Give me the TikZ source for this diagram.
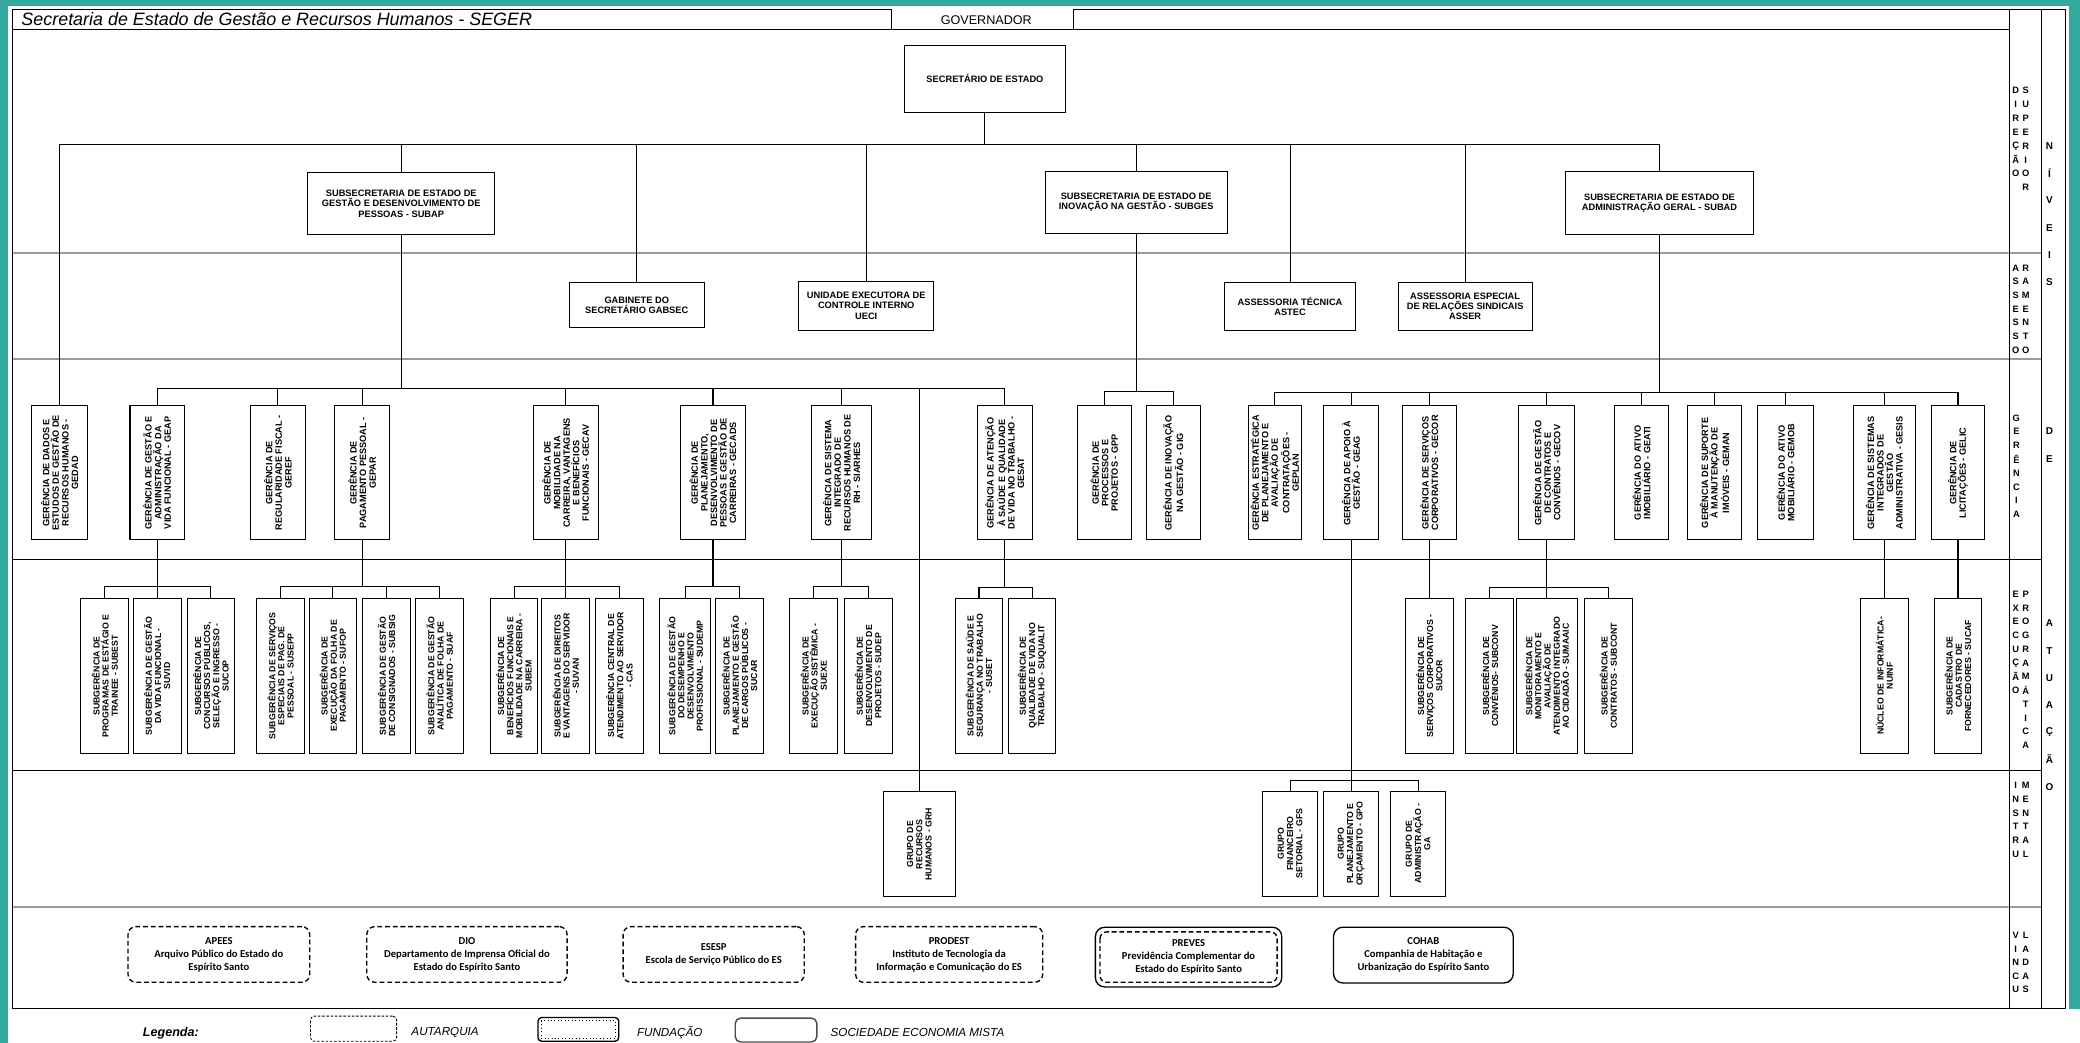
\documentclass[tikz,border=0pt]{standalone}
\usepackage{fontspec}
\setmainfont{Liberation Sans}
\newfontfamily\calib{Carlito}
\definecolor{frameteal}{RGB}{51,168,158}
\begin{document}
\begin{tikzpicture}[x=1pt,y=-1pt,
 box/.style={draw, line width=0.8pt, fill=white, inner sep=1pt},
 hbox/.style={box, align=center, font=\bfseries\fontsize{7}{7.8}\selectfont},
 gbox/.style={box, rotate=90, align=center, font=\bfseries\fontsize{6.9}{7.2}\selectfont, minimum width=101pt, minimum height=41pt},
 ebox/.style={box, rotate=90, align=center, font=\bfseries\fontsize{6.6}{6.9}\selectfont, minimum width=117pt, minimum height=36pt},
 ibox/.style={box, rotate=90, align=center, font=\bfseries\fontsize{6.6}{7}\selectfont, minimum width=79pt, minimum height=41pt},
 conn/.style={line width=0.8pt},
 frame/.style={line width=0.8pt},
 sep/.style={line width=1.5pt, draw=black!40},
 blet/.style={inner sep=0pt, font=\bfseries\fontsize{7}{7}\selectfont},
 nlet/.style={inner sep=0pt, font=\bfseries\fontsize{7.5}{7.5}\selectfont},
 vin/.style={draw, rounded corners=6pt, line width=1pt, dash pattern=on 3.6pt off 2.2pt, align=center, inner sep=0pt, font=\calib\bfseries\fontsize{8}{9.8}\selectfont},
 legtext/.style={anchor=west, inner sep=0pt, font=\itshape\fontsize{8.8}{8.8}\selectfont}
]
\useasboundingbox (0,0) rectangle (1568,786);
\fill[white] (0,0) rectangle (1568,786);
\fill[frameteal] (0,0) rectangle (6,786);
\fill[frameteal] (0,0) rectangle (1568,4.5);
\fill[frameteal] (1560,0) rectangle (1568,761);

% band separators
\foreach \y in {191,271,684} \draw[sep] (9.5,\y) -- (1539,\y);
\foreach \y in {422,581} \draw[frame] (9.5,\y) -- (1539,\y);

% frame and header
\draw[frame] (9.5,7) rectangle (672,22);
\draw[frame] (809.5,22) -- (809.5,7) -- (1557,7);
\draw[frame] (9.5,22) -- (1515,22);
\draw[frame] (9.5,22) -- (9.5,760) -- (1557,760) -- (1557,7);
\draw[frame] (1515,7) -- (1515,760);
\draw[frame] (1539,7) -- (1539,760);
\node[anchor=west, inner sep=0pt, font=\itshape\fontsize{13.5}{13.5}\selectfont] (title) at (16,14.5) {Secretaria de Estado de Gestão e Recursos Humanos - SEGER};
\node[inner sep=0pt, font=\fontsize{9.5}{9.5}\selectfont] (gov) at (743.5,15) {GOVERNADOR};

% band labels
\foreach \l [count=\i from 0] in {D,I,R,E,Ç,Ã,O} \node[blet] (dsa\i) at (1519.5,{68+10.5*\i}) {\l};
\foreach \l [count=\i from 0] in {S,U,P,E,R,I,O,R} \node[blet] (dsb\i) at (1527,{68+10.5*\i}) {\l};
\foreach \l [count=\i from 0] in {A,S,S,E,S,S,O} \node[blet] (asa\i) at (1519.5,{202+10.33*\i}) {\l};
\foreach \l [count=\i from 0] in {R,A,M,E,N,T,O} \node[blet] (asb\i) at (1527,{202+10.33*\i}) {\l};
\foreach \l [count=\i from 0] in {G,E,R,Ê,N,C,I,A} \node[blet] (gea\i) at (1520,{315+10.4*\i}) {\l};
\foreach \l [count=\i from 0] in {E,X,E,C,U,Ç,Ã,O} \node[blet] (epa\i) at (1519.5,{448+10.36*\i}) {\l};
\foreach \l [count=\i from 0] in {P,R,O,G,R,A,M,Á,T,I,C,A} \node[blet] (epb\i) at (1527,{448+10.36*\i}) {\l};
\foreach \l [count=\i from 0] in {I,N,S,T,R,U} \node[blet] (ina\i) at (1519.5,{592+10.4*\i}) {\l};
\foreach \l [count=\i from 0] in {M,E,N,T,A,L} \node[blet] (inb\i) at (1527,{592+10.4*\i}) {\l};
\foreach \l [count=\i from 0] in {V,I,N,C,U} \node[blet] (via\i) at (1519.5,{705+10.25*\i}) {\l};
\foreach \l [count=\i from 0] in {L,A,D,A,S} \node[blet] (vib\i) at (1527,{705+10.25*\i}) {\l};
% niveis de atuacao
\foreach \l [count=\i from 0] in {N,Í,V,E,I,S} \node[nlet] (nv\i) at (1545,{110+20.6*\i}) {\l};
\foreach \l [count=\i from 0] in {D,E} \node[nlet] (de\i) at (1545,{325+21*\i}) {\l};
\foreach \l [count=\i from 0] in {A,T,U,A,Ç,Ã,O} \node[nlet] (at\i) at (1545,{470+20.5*\i}) {\l};

% level 1
\node[hbox, minimum width=121pt, minimum height=51pt] (SEC) at (742.5,59.5) {SECRETÁRIO DE ESTADO};
\node[hbox, minimum width=141pt, minimum height=47pt] (SUBAP) at (302.5,153.5) {SUBSECRETARIA DE ESTADO DE\\GESTÃO E DESENVOLVIMENTO DE\\PESSOAS - SUBAP};
\node[hbox, minimum width=137pt, minimum height=47pt] (SUBGES) at (856.5,152.5) {SUBSECRETARIA DE ESTADO DE\\INOVAÇÃO NA GESTÃO - SUBGES};
\node[hbox, minimum width=142pt, minimum height=48pt] (SUBAD) at (1251,153) {SUBSECRETARIA DE ESTADO DE\\ADMINISTRAÇÃO GERAL - SUBAD};
% assessoramento
\node[hbox, minimum width=102pt, minimum height=34pt] (GABSEC) at (480,230) {GABINETE DO\\SECRETÁRIO GABSEC};
\node[hbox, minimum width=102pt, minimum height=37pt] (UECI) at (653,230.5) {UNIDADE EXECUTORA DE\\CONTROLE INTERNO\\UECI};
\node[hbox, minimum width=99pt, minimum height=36pt] (ASTEC) at (972.5,231) {ASSESSORIA TÉCNICA\\ASTEC};
\node[hbox, minimum width=101pt, minimum height=36pt] (ASSER) at (1104.5,231) {ASSESSORIA ESPECIAL\\DE RELAÇÕES SINDICAIS\\ASSER};

% gerencias
\node[gbox, minimum height=42pt] (GEDAD) at (45,356.5) {GERÊNCIA DE DADOS E\\ESTUDOS DE GESTÃO DE\\RECURSOS HUMANOS -\\GEDAD};
\node[gbox] (GEAP) at (118.5,356.5) {GERÊNCIA DE GESTÃO E\\ADMINISTRAÇÃO DA\\VIDA FUNCIONAL - GEAP};
\node[gbox] (GEREF) at (209.5,356.5) {GERÊNCIA DE\\REGULARIDADE FISCAL -\\GEREF};
\node[gbox] (GEPAR) at (273,356.5) {GERÊNCIA DE\\PAGAMENTO PESSOAL -\\GEPAR};
\node[gbox, minimum height=49pt] (GECAV) at (426.5,356.5) {GERÊNCIA DE\\MOBILIDADE NA\\CARREIRA, VANTAGENS\\E BENEFÍCIOS\\FUNCIONAIS - GECAV};
\node[gbox, minimum height=49pt] (GECADS) at (537.5,356.5) {GERÊNCIA DE\\PLANEJAMENTO,\\DESENVOLVIMENTO DE\\PESSOAS E GESTÃO DE\\CARREIRAS - GECADS};
\node[gbox, minimum height=45pt] (SIARHES) at (634.5,356.5) {GERÊNCIA DE SISTEMA\\INTEGRADO DE\\RECURSOS HUMANOS DE\\RH - SIARHES};
\node[gbox] (GESAT) at (757.5,356.5) {GERÊNCIA DE ATENÇÃO\\À SAÚDE E QUALIDADE\\DE VIDA NO TRABALHO -\\GESAT};
\node[gbox] (GPP) at (832.5,356.5) {GERÊNCIA DE\\PROCESSOS E\\PROJETOS - GPP};
\node[gbox] (GIG) at (884.5,356.5) {GERÊNCIA DE INOVAÇÃO\\NA GESTÃO - GIG};
\node[gbox, minimum height=40pt] (GEPLAN) at (961,356.5) {GERÊNCIA ESTRATÉGICA\\DE PLANEJAMENTO E\\AVALIAÇÃO DE\\CONTRATAÇÕES -\\GEPLAN};
\node[gbox] (GEAG) at (1018.5,356.5) {GERÊNCIA DE APOIO À\\GESTÃO - GEAG};
\node[gbox] (GECOR) at (1077.5,356.5) {GERÊNCIA DE SERVIÇOS\\CORPORATIVOS - GECOR};
\node[gbox, minimum height=42pt] (GECOV) at (1166,356.5) {GERÊNCIA DE GESTÃO\\DE CONTRATOS E\\CONVÊNIOS - GECOV};
\node[gbox] (GEATI) at (1237.5,356.5) {GERÊNCIA DO ATIVO\\IMOBILIÁRIO - GEATI};
\node[gbox] (GEMAN) at (1292.5,356.5) {GERÊNCIA DE SUPORTE\\À MANUTENÇÃO DE\\IMÓVEIS - GEMAN};
\node[gbox, minimum height=42pt] (GEMOB) at (1346,356.5) {GERÊNCIA DO ATIVO\\MOBILIÁRIO - GEMOB};
\node[gbox, minimum height=47pt] (GESIS) at (1420.5,356.5) {GERÊNCIA DE SISTEMAS\\INTEGRADOS DE\\GESTÃO\\ADMINISTRATIVA - GESIS};
\node[gbox, minimum height=40pt] (GELIC) at (1476,356.5) {GERÊNCIA DE\\LICITAÇÕES - GELIC};

% execucao programatica
\node[ebox] (SUBEST) at (79,509.5) {SUBGERÊNCIA DE\\PROGRAMAS DE ESTÁGIO E\\TRAINEE - SUBEST};
\node[ebox] (SUVID) at (118.5,509.5) {SUBGERÊNCIA DE GESTÃO\\DA VIDA FUNCIONAL -\\SUVID};
\node[ebox] (SUCOP) at (159,509.5) {SUBGERÊNCIA DE\\CONCURSOS PÚBLICOS,\\SELEÇÃO E INGRESSO -\\SUCOP};
\node[ebox] (SUSEPP) at (211.5,509.5) {SUBGERÊNCIA DE SERVIÇOS\\ESPECIAIS DE PAG. DE\\PESSOAL - SUSEPP};
\node[ebox] (SUFOP) at (251,509.5) {SUBGERÊNCIA DE\\EXECUÇÃO DA FOLHA DE\\PAGAMENTO - SUFOP};
\node[ebox] (SUBSIG) at (291.5,509.5) {SUBGERÊNCIA DE GESTÃO\\DE CONSIGNADOS - SUBSIG};
\node[ebox] (SUAF) at (331.5,509.5) {SUBGERÊNCIA DE GESTÃO\\ANALÍTICA DE FOLHA DE\\PAGAMENTO - SUAF};
\node[ebox] (SUBEM) at (387.5,509.5) {SUBGERÊNCIA DE\\BENEFÍCIOS FUNCIONAIS E\\MOBILIDADE NA CARREIRA -\\SUBEM};
\node[ebox] (SUVAN) at (426.5,509.5) {SUBGERÊNCIA DE DIREITOS\\E VANTAGENS DO SERVIDOR\\- SUVAN};
\node[ebox] (CAS) at (467,509.5) {SUBGERÊNCIA CENTRAL DE\\ATENDIMENTO AO SERVIDOR\\- CAS};
\node[ebox, minimum height=38pt] (SUDEMP) at (516.5,509.5) {SUBGERÊNCIA DE GESTÃO\\DO DESEMPENHO E\\DESENVOLVIMENTO\\PROFISSIONAL - SUDEMP};
\node[ebox] (SUCAR) at (557.5,509.5) {SUBGERÊNCIA DE\\PLANEJAMENTO E GESTÃO\\DE CARGOS PÚBLICOS -\\SUCAR};
\node[ebox] (SUEXE) at (613.5,509.5) {SUBGERÊNCIA DE\\EXECUÇÃO SISTÊMICA -\\SUEXE};
\node[ebox] (SUDEP) at (654.5,509.5) {SUBGERÊNCIA DE\\DESENVOLVIMENTO DE\\PROJETOS - SUDEP};
\node[ebox] (SUSET) at (738,509.5) {SUBGERÊNCIA DE SAÚDE E\\SEGURANÇA NO TRABALHO\\- SUSET};
\node[ebox] (SUQUALIT) at (778,509.5) {SUBGERÊNCIA DE\\QUALIDADE DE VIDA NO\\TRABALHO - SUQUALIT};
\node[ebox] (SUCOR) at (1077.5,509.5) {SUBGERÊNCIA DE\\SERVIÇOS CORPORATIVOS -\\SUCOR};
\node[ebox] (SUBCONV) at (1123,509.5) {SUBGERÊNCIA DE\\CONVÊNIOS- SUBCONV};
\node[ebox, minimum height=46pt] (SUMAAIC) at (1166,509.5) {SUBGERÊNCIA DE\\MONITORAMENTO E\\AVALIAÇÃO DE\\ATENDIMENTO INTEGRADO\\AO CIDADÃO - SUMAAIC};
\node[ebox] (SUBCONT) at (1212.5,509.5) {SUBGERÊNCIA DE\\CONTRATOS - SUBCONT};
\node[ebox] (NUINF) at (1420.5,509.5) {NÚCLEO DE INFORMÁTICA-\\NUINF};
\node[ebox] (SUCAF) at (1476,509.5) {SUBGERÊNCIA DE\\CADASTRO DE\\FORNECEDORES - SUCAF};

% instrumental
\node[ibox, minimum height=54pt] (GRH) at (693,636.5) {GRUPO DE\\RECURSOS\\HUMANOS - GRH};
\node[ibox] (GFS) at (972.5,636) {GRUPO\\FINANCEIRO\\SETORIAL - GFS};
\node[ibox] (GPO) at (1018.5,636) {GRUPO\\PLANEJAMENTO E\\ORÇAMENTO - GPO};
\node[ibox, minimum height=42pt] (GA) at (1069,636) {GRUPO DE\\ADMINISTRAÇÃO -\\GA};

% connectors level 1
\coordinate (b0) at (SEC.south |- 0,109);
\draw[conn] (SEC.south) -- (b0);
\foreach \n in {SUBAP,GABSEC,UECI,SUBGES,ASTEC,ASSER,SUBAD} \draw[conn] (\n.north) |- (b0);
\draw[conn] (GEDAD.east) |- (b0);
% SUBAP
\coordinate (b1) at (SUBAP.south |- 0,293);
\draw[conn] (SUBAP.south) -- (b1);
\foreach \n in {GEAP,GEREF,GEPAR,GECAV,GECADS,SIARHES,GESAT,GRH} \draw[conn] (\n.east) |- (b1);
% SUBGES
\coordinate (b2) at (SUBGES.south |- 0,295);
\draw[conn] (SUBGES.south) -- (b2);
\foreach \n in {GPP,GIG} \draw[conn] (\n.east) |- (b2);
% SUBAD
\coordinate (b3) at (SUBAD.south |- 0,296);
\draw[line width=1.1pt] (SUBAD.south) -- (b3);
\foreach \n in {GEPLAN,GEAG,GECOR,GECOV,GEATI,GEMAN,GEMOB,GESIS,GELIC} \draw[conn] (\n.east) |- (b3);
% execucao groups
\coordinate (e1) at (GEAP.west |- 0,442);
\draw[conn] (GEAP.west) -- (e1);
\foreach \n in {SUBEST,SUVID,SUCOP} \draw[conn] (\n.east) |- (e1);
\coordinate (e2) at (GEPAR.west |- 0,442);
\draw[conn] (GEPAR.west) -- (e2);
\foreach \n in {SUSEPP,SUFOP,SUBSIG,SUAF} \draw[conn] (\n.east) |- (e2);
\coordinate (e3) at (GECAV.west |- 0,442);
\draw[conn] (GECAV.west) -- (e3);
\foreach \n in {SUBEM,SUVAN,CAS} \draw[conn] (\n.east) |- (e3);
\coordinate (e4) at (GECADS.west |- 0,442);
\draw[conn] (GECADS.west) -- (e4);
\foreach \n in {SUDEMP,SUCAR} \draw[conn] (\n.east) |- (e4);
\coordinate (e5) at (SIARHES.west |- 0,442);
\draw[conn] (SIARHES.west) -- (e5);
\foreach \n in {SUEXE,SUDEP} \draw[conn] (\n.east) |- (e5);
\coordinate (e6) at (GESAT.west |- 0,443);
\draw[conn] (GESAT.west) -- (e6);
\foreach \n in {SUSET,SUQUALIT} \draw[conn] (\n.east) |- (e6);
\coordinate (e7) at (GECOV.west |- 0,443);
\draw[conn] (GECOV.west) -- (e7);
\foreach \n in {SUBCONV,SUMAAIC,SUBCONT} \draw[conn] (\n.east) |- (e7);
\draw[conn] (GECOR.west) -- (SUCOR.east);
\draw[conn] (GESIS.west) -- (NUINF.east);
\draw[conn] (GELIC.west) -- (SUCAF.east);
% instrumental group
\coordinate (i1) at (GEAG.west |- 0,588.5);
\draw[conn] (GEAG.west) -- (i1);
\foreach \n in {GFS,GPO,GA} \draw[conn] (\n.east) |- (i1);

% vinculadas
\node[vin, minimum width=137pt, minimum height=42pt] (APEES) at (165,719.5) {APEES\\Arquivo Público do Estado do\\Espírito Santo};
\node[vin, minimum width=151pt, minimum height=42pt] (DIO) at (352,719.5) {DIO\\Departamento de Imprensa Oficial do\\Estado do Espírito Santo};
\node[vin, minimum width=136.5pt, minimum height=42pt] (ESESP) at (538,719.5) {ESESP\\Escola de Serviço Público do ES};
\node[vin, minimum width=141pt, minimum height=42pt] (PRODEST) at (715.5,719.5) {PRODEST\\Instituto de Tecnologia da\\Informação e Comunicação do ES};
\node[draw, rounded corners=7pt, line width=1pt, minimum width=140.5pt, minimum height=45pt, align=center, inner sep=0pt, font=\calib\bfseries\fontsize{8}{9.8}\selectfont] (PREVES) at (896,721.5) {PREVES\\Previdência Complementar do\\Estado do Espírito Santo};
\draw[line width=1pt, dash pattern=on 3.6pt off 2.2pt, rounded corners=5pt] ([xshift=4pt,yshift=-4pt]PREVES.north west) rectangle ([xshift=-4pt,yshift=4pt]PREVES.south east);
\node[draw, rounded corners=7pt, line width=1pt, minimum width=135.5pt, minimum height=42pt, align=center, inner sep=0pt, font=\calib\bfseries\fontsize{8}{9.8}\selectfont] (COHAB) at (1073,720) {COHAB\\Companhia de Habitação e\\Urbanização do Espírito Santo};

% legend
\node[anchor=west, inner sep=0pt, font=\bfseries\itshape\fontsize{9.5}{9.5}\selectfont] (leg) at (107.5,779) {Legenda:};
\node[draw, rounded corners=3pt, line width=0.6pt, dash pattern=on 2pt off 1.2pt, minimum width=65pt, minimum height=19pt] (legA) at (266.5,775.5) {};
\node[legtext] (legAt) at (310,778.5) {AUTARQUIA};
\node[draw, rounded corners=3pt, line width=1pt, minimum width=61pt, minimum height=18pt] (legF) at (436,776) {};
\draw[line width=0.6pt, dotted] ([xshift=3pt,yshift=-3pt]legF.north west) rectangle ([xshift=-3pt,yshift=3pt]legF.south east);
\node[legtext] (legFt) at (480,778.5) {FUNDAÇÃO};
\node[draw=black!70, rounded corners=4pt, line width=1.1pt, minimum width=61.5pt, minimum height=18pt] (legS) at (585,776.5) {};
\node[legtext] (legSt) at (626,778.5) {SOCIEDADE ECONOMIA MISTA};
\end{tikzpicture}
\end{document}
